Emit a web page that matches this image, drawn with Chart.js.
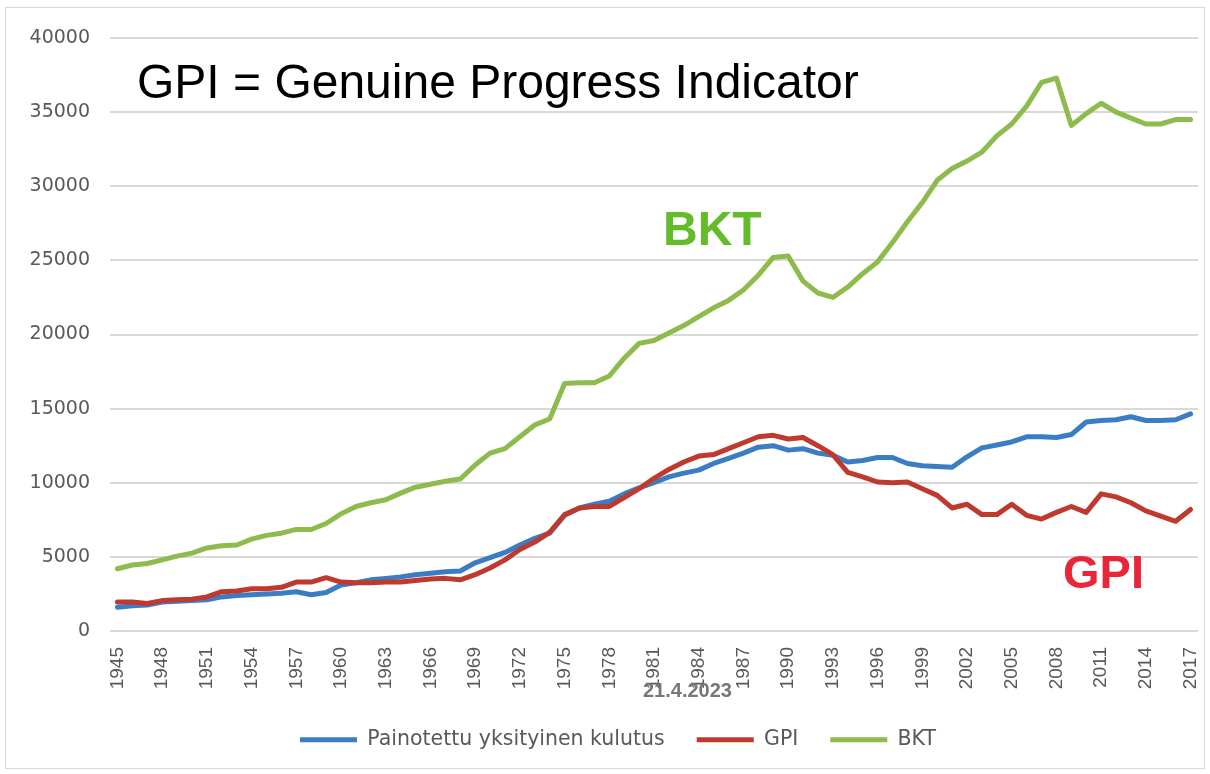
<!DOCTYPE html>
<html>
<head>
<title>GPI vs BKT</title>
<style>
    body { margin: 0; background: #fff; }
    #wrap { position: relative; width: 1210px; height: 774px; }
</style>
</head>
<body>
<div id="wrap"><canvas id="gpi"></canvas></div>

<script src="https://cdn.jsdelivr.net/npm/chart.js@4.4.0/dist/chart.umd.min.js"></script>
<script>
// years on the x axis
const years = [
    '1945','1946','1947','1948','1949','1950','1951','1952','1953','1954',
    '1955','1956','1957','1958','1959','1960','1961','1962','1963','1964',
    '1965','1966','1967','1968','1969','1970','1971','1972','1973','1974',
    '1975','1976','1977','1978','1979','1980','1981','1982','1983','1984',
    '1985','1986','1987','1988','1989','1990','1991','1992','1993','1994',
    '1995','1996','1997','1998','1999','2000','2001','2002','2003','2004',
    '2005','2006','2007','2008','2009','2010','2011','2012','2013','2014',
    '2015','2016','2017'
];

// Painotettu yksityinen kulutus
const kulutus = [
    1600, 1700, 1750, 1950, 2000, 2050, 2100, 2300, 2400, 2450,
    2500, 2550, 2650, 2450, 2600, 3100, 3250, 3450, 3550, 3650,
    3800, 3900, 4000, 4050, 4600, 4950, 5300, 5800, 6250, 6600,
    7800, 8300, 8550, 8750, 9250, 9650, 10000, 10400, 10650, 10850,
    11300, 11650, 12000, 12400, 12500, 12200, 12300, 12000, 11850, 11400,
    11500, 11700, 11700, 11300, 11150, 11100, 11050, 11750, 12350, 12550,
    12750, 13100, 13100, 13050, 13250, 14100, 14200, 14250, 14450, 14200,
    14200, 14250, 14650
];

// GPI
const gpi = [
    1950, 1950, 1850, 2050, 2100, 2150, 2300, 2650, 2700, 2850,
    2850, 2950, 3300, 3300, 3600, 3300, 3250, 3250, 3300, 3300,
    3400, 3500, 3550, 3450, 3800, 4250, 4800, 5500, 6000, 6650,
    7850, 8300, 8400, 8400, 9000, 9600, 10300, 10900, 11400, 11800,
    11900, 12300, 12700, 13100, 13200, 12950, 13050, 12500, 11900, 10700,
    10400, 10050, 10000, 10050, 9600, 9150, 8300, 8550, 7850, 7850,
    8550, 7800, 7550, 8000, 8400, 8000, 9250, 9050, 8650, 8100,
    7750, 7400, 8200
];

// BKT
const bkt = [
    4200, 4450, 4550, 4800, 5050, 5250, 5600, 5750, 5800, 6200,
    6450, 6600, 6850, 6850, 7250, 7900, 8400, 8650, 8850, 9300,
    9700, 9900, 10100, 10250, 11200, 12000, 12300, 13100, 13900, 14300,
    16700, 16750, 16750, 17200, 18400, 19400, 19600, 20100, 20600, 21200,
    21800, 22300, 23000, 24000, 25200, 25300, 23600, 22800, 22500, 23200,
    24100, 24900, 26200, 27600, 28900, 30400, 31200, 31700, 32300, 33400,
    34200, 35400, 37000, 37300, 34100, 34900, 35600, 35000, 34600, 34200,
    34200, 34500, 34500
];

const yMax = 40000;
const yStep = 5000;

const tickColor = '#595959';
const gridColor = '#d9d9d9';

// headline, big series names, date stamp and the outer frame
const notes = {
    id: 'notes',
    afterLayout(chart) {
        // legend sits a bit right of centre in the original
        chart.legend.left += 19;
        chart.legend.right += 19;
    },
    afterDraw(chart) {
        const ctx = chart.ctx;
        ctx.save();
        ctx.textAlign = 'left';
        ctx.textBaseline = 'alphabetic';

        ctx.fillStyle = '#000';
        ctx.font = '48px "Liberation Sans", Arial, sans-serif';
        ctx.fillText('GPI = Genuine Progress Indicator', 137, 98);

        ctx.fillStyle = '#64bc2a';
        ctx.font = 'bold 48px "Liberation Sans", Arial, sans-serif';
        ctx.fillText('BKT', 663, 245);

        ctx.fillStyle = '#e8263a';
        ctx.font = 'bold 47px "Liberation Sans", Arial, sans-serif';
        ctx.fillText('GPI', 1063, 588);

        ctx.fillStyle = '#777';
        ctx.font = 'bold 20px "Liberation Sans", Arial, sans-serif';
        ctx.fillText('21.4.2023', 643, 697);

        ctx.strokeStyle = gridColor;
        ctx.lineWidth = 1;
        ctx.strokeRect(5.5, 7.5, 1199, 761);
        ctx.restore();
    }
};

function line(label, data, color, order) {
    return {
        label: label,
        data: data,
        borderColor: color,
        backgroundColor: color,
        borderWidth: 5,
        borderCapStyle: 'round',
        borderJoinStyle: 'round',
        pointRadius: 0,
        tension: 0,
        order: order
    };
}

const context = document.getElementById('gpi').getContext('2d');
const chart = new Chart(context, {
    type: 'line',
    data: {
        labels: years,
        datasets: [
            line('Painotettu yksityinen kulutus', kulutus, '#3b7dc4', 3),
            line('GPI', gpi, '#c0392f', 2),
            line('BKT', bkt, '#8dbb4c', 1)
        ]
    },
    options: {
        responsive: true,
        maintainAspectRatio: false,
        animation: false,
        layout: { padding: { top: 38, right: 12, bottom: 14, left: 0 } },
        plugins: {
            tooltip: { enabled: false },
            legend: {
                position: 'bottom',
                labels: {
                    usePointStyle: true,
                    pointStyle: 'line',
                    pointStyleWidth: 57,
                    padding: 32,
                    color: tickColor,
                    font: { family: '"DejaVu Sans"', size: 20.5 },
                    sort: (a, b) => a.datasetIndex - b.datasetIndex
                }
            }
        },
        scales: {
            x: {
                offset: true,
                grid: { display: false, drawTicks: false },
                border: { display: false },
                ticks: {
                    autoSkip: false,
                    maxRotation: 90,
                    minRotation: 90,
                    padding: 16,
                    color: tickColor,
                    font: { family: '"Liberation Sans"', size: 19 },
                    callback: (val, idx) => idx % 3 === 0 ? years[idx] : ''
                },
                afterFit: (scale) => {
                    scale.height = 66.5;
                    scale.paddingLeft = 0;
                    scale.paddingRight = 0;
                }
            },
            y: {
                min: 0,
                max: yMax,
                grid: { color: gridColor, lineWidth: 2, drawTicks: false },
                border: { display: false },
                ticks: {
                    stepSize: yStep,
                    padding: 20,
                    color: tickColor,
                    font: { family: '"DejaVu Sans"', size: 19 },
                    callback: (v) => String(v)
                },
                afterFit: (scale) => { scale.width = 110; }
            }
        }
    },
    plugins: [notes]
});
</script>
</body>
</html>
